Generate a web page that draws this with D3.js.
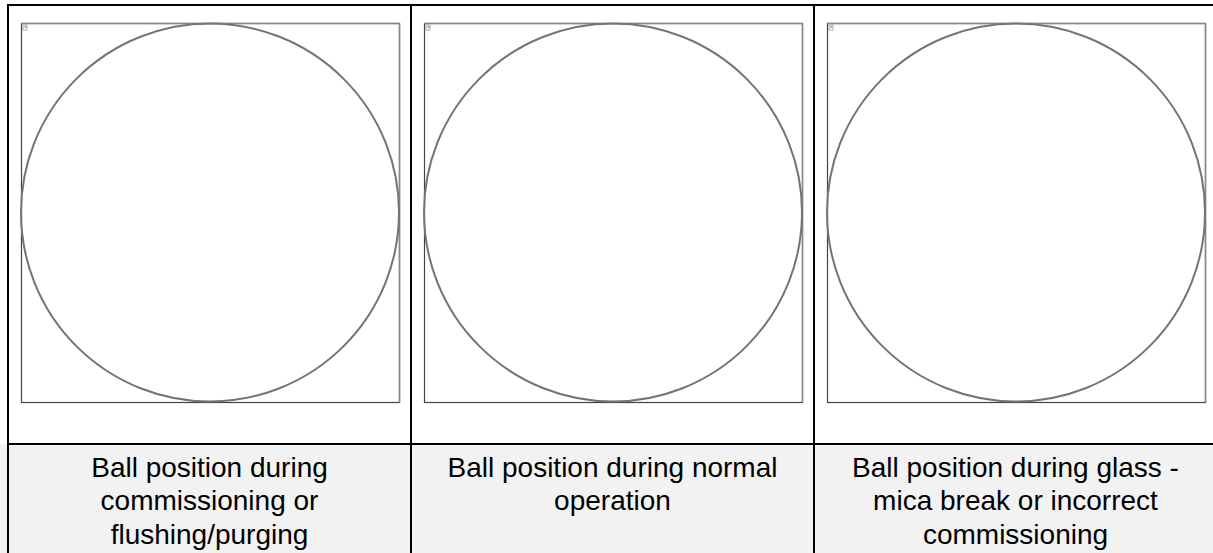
<!DOCTYPE html>
<html><head><meta charset="utf-8">
<script src="https://cdn.jsdelivr.net/npm/d3@7"></script>
<style>html,body{margin:0;padding:0;background:#fff;overflow:hidden}</style>
</head><body><svg id="c" width="1213" height="553"></svg>
<script>
const panels = ["commissioning", "normal", "glassBreak"];
const captions = [
  ["Ball position during", "commissioning or", "flushing/purging"],
  ["Ball position during normal", "operation"],
  ["Ball position during glass -", "mica break or incorrect", "commissioning"]
];
// ball centre (relative 0..1 within gauge) and radius (relative to gauge half-width)
const ballX = [0.5, 0.5, 0.5];
const ballY = [0.5, 0.5, 0.5];
const ballR = [1, 1, 1];

const svg = d3.select("#c");
const W = 1213, H = 553;
const col = d3.scaleBand().domain(d3.range(panels.length)).range([8, 1217]).padding(0);
const topY = 5, rowY = 444, botY = 560;

// caption row background
svg.append("rect").attr("x", 0).attr("y", rowY).attr("width", W).attr("height", H - rowY).attr("fill", "#f2f2f2");
// table lines
const g = svg.append("g").attr("stroke", "#000").attr("stroke-width", 2);
g.append("line").attr("x1", col(0)).attr("x2", W + 5).attr("y1", topY).attr("y2", topY);
g.append("line").attr("x1", col(0)).attr("x2", W + 5).attr("y1", rowY).attr("y2", rowY);
d3.range(panels.length + 1).forEach(i => {
  const x = i < panels.length ? col(i) : col(panels.length - 1) + col.bandwidth();
  g.append("line").attr("x1", x).attr("x2", x).attr("y1", topY - 1).attr("y2", botY);
});

panels.forEach((p, i) => {
  const x0 = col(i) + 13, y0 = 23, size = 378;
  const sx = d3.scaleLinear().domain([0, 1]).range([x0, x0 + size]);
  const sy = d3.scaleLinear().domain([0, 1]).range([y0, y0 + size + 1]);
  const pg = svg.append("g");
  pg.append("rect").attr("x", x0 + 0.5).attr("y", y0 + 0.5).attr("width", size).attr("height", size + 1)
    .attr("fill", "#fff").attr("stroke", "#444").attr("stroke-width", 1.2);
  pg.append("line").attr("x1", x0 + 0.5).attr("x2", x0 + size + 0.5).attr("y1", y0 + 0.5).attr("y2", y0 + 0.5)
    .attr("stroke", "#888").attr("stroke-width", 1.5);
  pg.append("line").attr("x1", x0 + size + 0.5).attr("x2", x0 + size + 0.5).attr("y1", y0 + 0.5).attr("y2", y0 + size + 1.5)
    .attr("stroke", "#888").attr("stroke-width", 1.5);
  // tiny marker icon
  pg.append("rect").attr("x", x0 + 2).attr("y", y0 + 2).attr("width", 4).attr("height", 5).attr("fill", "none").attr("stroke", "#999").attr("stroke-width", 0.8);
  pg.append("rect").attr("x", x0 + 3.5).attr("y", y0 + 3).attr("width", 2).attr("height", 2).attr("fill", "#e88");
  const r = (sx(1) - sx(0)) / 2 * ballR[i];
  pg.append("circle").attr("cx", sx(ballX[i])).attr("cy", sy(ballY[i])).attr("r", r)
    .attr("fill", "none").attr("stroke", "#747474").attr("stroke-width", 2);

  const cx = col(i) + col.bandwidth() / 2;
  const t = svg.append("text").attr("x", cx).attr("text-anchor", "middle")
    .attr("font-family", "Liberation Sans, Arial, sans-serif").attr("font-size", 28).attr("fill", "#000");
  captions[i].forEach((line, j) => {
    t.append("tspan").attr("x", cx).attr("y", 476.5 + j * 33.5).text(line);
  });
});
</script></body></html>
